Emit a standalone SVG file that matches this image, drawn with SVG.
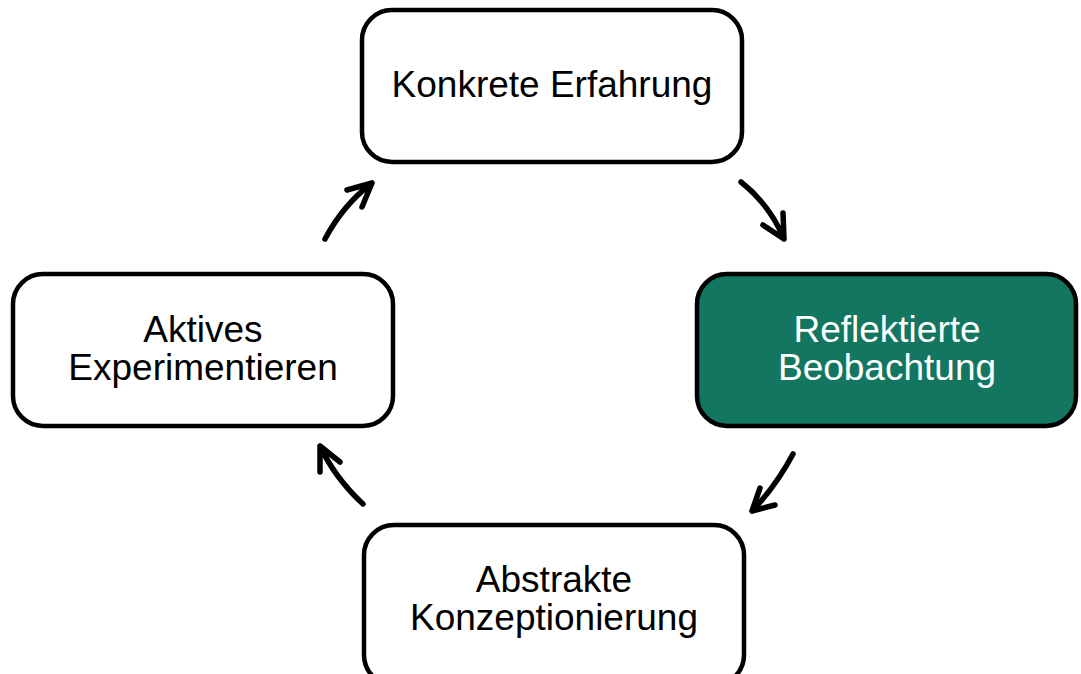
<svg xmlns="http://www.w3.org/2000/svg" width="1081" height="674" viewBox="0 0 1081 674">
<style>
.box{fill:#fff;stroke:#000;stroke-width:4.5}
.hl{fill:#137660}
.t{font-family:"Liberation Sans",Arial,sans-serif;font-size:37px;text-anchor:middle;fill:#000}
.tw{fill:#fff}
.arr{fill:none;stroke:#000;stroke-width:5.5;stroke-linecap:round;stroke-linejoin:round}
</style>
<rect width="1081" height="674" fill="#fff"/>
<g id="konkrete">
<rect class="box" x="362" y="10" width="380" height="152" rx="30"/>
<text class="t" x="552" y="97">Konkrete Erfahrung</text>
</g>
<g id="reflektierte">
<rect class="box hl" x="697" y="274" width="379" height="152" rx="30"/>
<text class="t tw" x="887" y="342">Reflektierte</text>
<text class="t tw" x="887" y="380">Beobachtung</text>
</g>
<g id="abstrakte">
<rect class="box" x="364" y="525" width="380" height="160" rx="30"/>
<text class="t" x="554" y="592">Abstrakte</text>
<text class="t" x="554" y="630">Konzeptionierung</text>
</g>
<g id="aktives">
<rect class="box" x="13" y="274" width="380" height="152" rx="30"/>
<text class="t" x="203" y="342">Aktives</text>
<text class="t" x="203" y="380">Experimentieren</text>
</g>
<g id="connectors">
<path class="arr" d="M741 182 Q770 205 784 239 M763 225 L784 239 L783 213"/>
<path class="arr" d="M793 454 Q776 486 752 511 M760 488 L752 511 L775 505"/>
<path class="arr" d="M363 504 Q335 478 320 446 M320 472 L320 446 L340 462"/>
<path class="arr" d="M325 239 Q343 205 372 183 M347 190 L372 183 L362 207"/>
</g>
</svg>
